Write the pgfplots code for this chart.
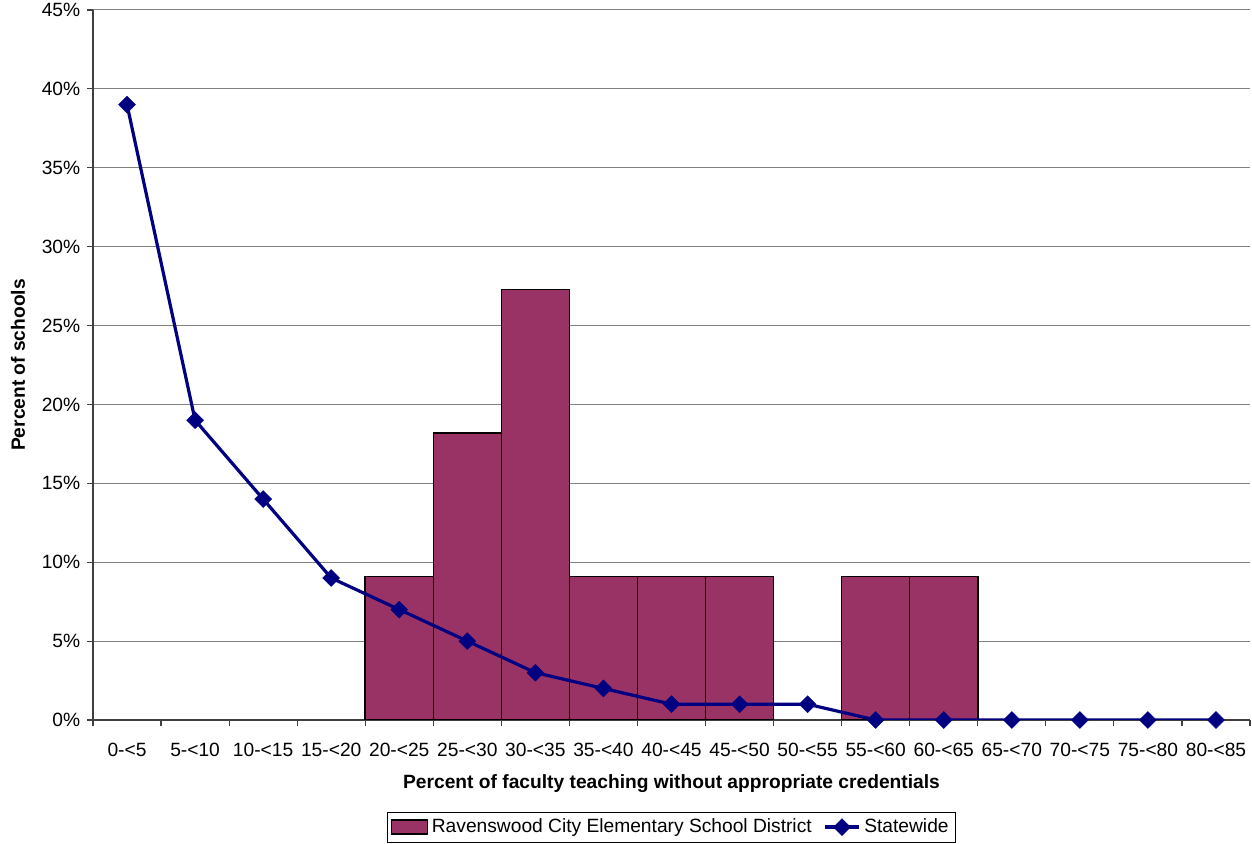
\documentclass[border=0pt]{standalone}
\usepackage{pgfplots}
\pgfplotsset{compat=1.18}
\usepackage{fontspec}
\setmainfont{Liberation Sans}
\definecolor{barfill}{HTML}{993366}
\definecolor{stateline}{HTML}{000080}
\definecolor{gridgray}{HTML}{808080}

\begin{document}
\fontsize{9.6}{11.5}\selectfont
\begin{tikzpicture}
\begin{axis}[
  scale only axis,
  width=578.5pt, height=355pt,
  xmin=-0.5, xmax=16.5,
  ymin=0, ymax=45,
  axis x line=bottom, axis y line=left,
  axis line style={-, draw=black!75, line width=0.6pt},
  xtick={0,...,16},
  xticklabels={0-<5,5-<10,10-<15,15-<20,20-<25,25-<30,30-<35,35-<40,40-<45,45-<50,50-<55,55-<60,60-<65,65-<70,70-<75,75-<80,80-<85},
  minor xtick={-0.5,0.5,...,16.5},
  major x tick style={draw=none},
  minor tick length=3pt,
  major tick length=3pt,
  tick align=outside,
  tick style={draw=black!75, line width=0.6pt},
  xticklabel style={yshift=-5pt},
  ytick={0,5,...,45},
  yticklabel={\pgfmathprintnumber{\tick}\%},
  /pgf/number format/assume math mode=true,
  ymajorgrids,
  grid style={draw=gridgray, line width=0.5pt},
  xlabel={\bfseries Percent of faculty teaching without appropriate credentials},
  ylabel={\bfseries Percent of schools},
  xlabel style={at={(axis description cs:0.5,-0.089)}, anchor=center},
  ylabel style={at={(axis description cs:-0.0648,0.5)}, anchor=center},
  legend columns=2,
  legend style={at={(axis description cs:0.5,-0.129)}, anchor=north,
    draw=black, line width=0.5pt, font=\fontsize{9.6}{11.5}\selectfont,
    inner sep=1.5pt, nodes={inner sep=1.8pt},
    /tikz/every even column/.append style={column sep=4pt}},
]
\addplot[ybar, bar width=1, bar shift=0pt, fill=barfill, draw=black, line width=0.75pt,
  legend image code/.code={\draw[fill=barfill, draw=black, line width=0.75pt] (0pt,-3.5pt) rectangle (18pt,3.5pt);}]
  coordinates {(4,9.09) (5,18.18) (6,27.27) (7,9.09) (8,9.09) (9,9.09) (11,9.09) (12,9.09)};
\addlegendentry{Ravenswood City Elementary School District}
\addplot[stateline, line width=1.6pt, mark=square*, mark size=3pt,
  mark options={rotate=45, fill=stateline, draw=stateline, line width=0.2pt}]
  coordinates {(0,39) (1,19) (2,14) (3,9) (4,7) (5,5) (6,3) (7,2) (8,1) (9,1) (10,1) (11,0) (12,0) (13,0) (14,0) (15,0) (16,0)};
\addlegendentry{Statewide}
\end{axis}
\pgfresetboundingbox
\path ([xshift=-46.5pt,yshift=-62pt]current axis.south west) rectangle ([xshift=1pt,yshift=5pt]current axis.north east);
\end{tikzpicture}
\end{document}
